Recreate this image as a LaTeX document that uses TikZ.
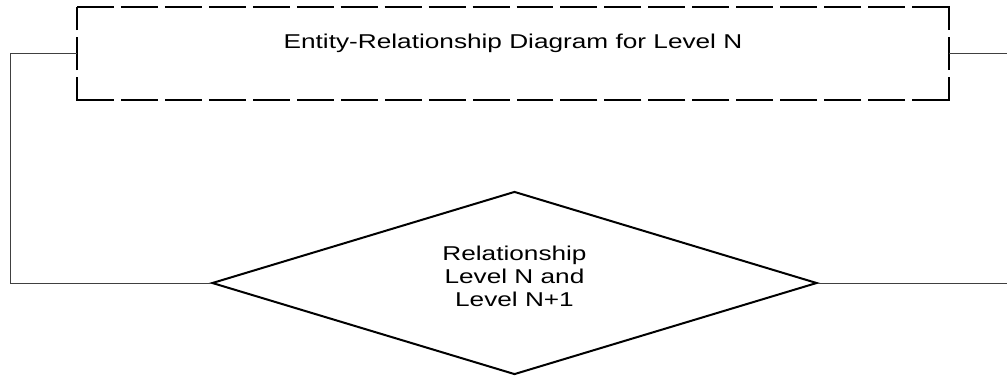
\documentclass[tikz,border=0pt]{standalone}
\usepackage{fontspec}
\setmainfont{Liberation Sans}
\usetikzlibrary{shapes.geometric,calc}

% dash sequence that fits the 872 x 93 frame exactly, starting at its north-west corner
\def\dashtop{on 36.95pt off 7pt on 36.95pt off 7pt on 36.95pt off 7pt on 36.95pt off 7pt on 36.95pt off 7pt on 36.95pt off 7pt on 36.95pt off 7pt on 36.95pt off 7pt on 36.95pt off 7pt on 36.95pt off 7pt on 36.95pt off 7pt on 36.95pt off 7pt on 36.95pt off 7pt on 36.95pt off 7pt on 36.95pt off 7pt on 36.95pt off 7pt on 36.95pt off 7pt on 36.95pt off 7pt on 36.95pt off 7pt}
\def\dashbottom{on 36.95pt off 7pt on 36.95pt off 7pt on 36.95pt off 7pt on 36.95pt off 7pt on 36.95pt off 7pt on 36.95pt off 7pt on 36.95pt off 7pt on 36.95pt off 7pt on 36.95pt off 7pt on 36.95pt off 7pt on 36.95pt off 7pt on 36.95pt off 7pt on 36.95pt off 7pt on 36.95pt off 7pt on 36.95pt off 7pt on 36.95pt off 7pt on 36.95pt off 7pt on 36.95pt off 7pt}

\begin{document}
\begin{tikzpicture}[x=1pt,y=-1pt,
    framebox/.style={draw=none,minimum width=872pt,minimum height=93pt,inner sep=0pt,outer sep=0pt},
    relbox/.style={diamond,draw=black,line width=2pt,minimum width=605pt,minimum height=183pt,
                   shape aspect=3.306,inner sep=0pt},
    lbl/.style={inner sep=0pt,text=black,font=\fontsize{20}{23}\selectfont},
    conn/.style={draw=black!75,line width=1pt}]
  \useasboundingbox (0,0) rectangle (1007,376);

  % entity set of level N
  \node[framebox] (box) at (513,53.5) {};
  \draw[line width=2.3pt,line join=miter,
        dash pattern/.expanded={\dashtop\space on 59.95pt off 7pt on 33pt off 7pt on 59.95pt off 7pt \dashbottom\space on 59.95pt off 7pt on 33pt off 7pt on 23pt}]
    (box.north west) -- (box.north east) -- (box.south east) -- (box.south west) -- cycle;
  \node[lbl] (title) at ($(box.center)+(0,-10)$)
    {\scalebox{1.31}[1]{Entity-Relationship Diagram for Level N}};

  % relationship between the levels
  \node[relbox] (rel) at (514.5,283) {};
  \node[lbl] (reltext) at ($(rel.center)+(0,-4.5)$)
    {\scalebox{1.31}[1]{\begin{tabular}{@{}c@{}}Relationship\\Level N and\\Level N+1\end{tabular}}};

  % connectors
  \coordinate (rightTop) at (1007,53.5);
  \coordinate (rightBottom) at (1007,283);
  \draw[conn] (box.west) -- ++(-67,0) |- (rel.west);
  \draw[conn] (box.east) -- (rightTop);
  \draw[conn] (rel.east) -- (rightBottom);
\end{tikzpicture}
\end{document}
